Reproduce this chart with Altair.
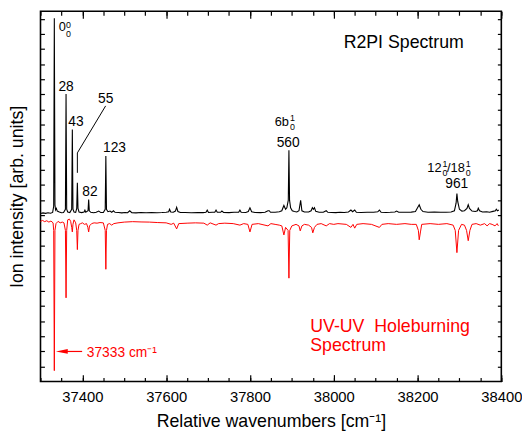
import altair as alt
import pandas as pd

FONT = "Liberation Sans"

# ---------------- data ----------------
# R2PI spectrum (black trace): wavenumber [cm-1], intensity [arb.]
r2pi_x = [37300, 37306, 37312, 37318, 37324, 37329, 37331.5, 37333, 37334.5, 37336,
          37338, 37340, 37345, 37350, 37355, 37359.5, 37361, 37362.5, 37365, 37370,
          37374.5, 37376, 37377.5, 37380, 37384, 37386.5, 37388, 37389.5, 37392, 37398,
          37404, 37406, 37408, 37413.5, 37415, 37416.5, 37420, 37427, 37433, 37439,
          37444, 37450, 37454.5, 37456, 37457.5, 37461, 37466, 37470, 37474, 37478,
          37486, 37494, 37502, 37508, 37513, 37518, 37528, 37540, 37552, 37565,
          37578, 37590, 37600, 37606, 37608, 37611, 37617, 37622, 37625, 37628,
          37634, 37645, 37660, 37675, 37688, 37695, 37698, 37701, 37710, 37716,
          37719, 37722, 37730, 37733, 37737, 37750, 37762, 37773, 37776, 37779,
          37790, 37796, 37800, 37804, 37812, 37825, 37836, 37843, 37846, 37849,
          37860, 37870, 37876, 37881, 37885, 37888, 37891.5, 37893, 37894.5, 37897,
          37901, 37906, 37912, 37917, 37921, 37924, 37930, 37940, 37946, 37949,
          37951.5, 37954, 37957, 37965, 37975, 37982, 37986, 37995, 38005, 38015,
          38025, 38035, 38041, 38045, 38050, 38054, 38065, 38080, 38095, 38105,
          38109, 38113, 38125, 38135, 38146, 38150, 38155, 38170, 38185, 38195,
          38200, 38204, 38208, 38213, 38225, 38240, 38255, 38268, 38280, 38288,
          38292, 38294, 38296, 38300, 38306, 38312, 38318, 38321, 38324, 38330,
          38338, 38343, 38345, 38348, 38355, 38365, 38372, 38380, 38386, 38388,
          38391, 38394]
r2pi_y = [1.112, 1.116, 1.113, 1.117, 1.114, 1.119, 1.160, 2.404, 1.170, 1.135,
          1.146, 1.128, 1.122, 1.117, 1.119, 1.140, 1.902, 1.140, 1.122, 1.118,
          1.140, 1.668, 1.140, 1.122, 1.120, 1.145, 1.316, 1.145, 1.122, 1.118,
          1.122, 1.134, 1.120, 1.130, 1.205, 1.130, 1.120, 1.117, 1.120, 1.128,
          1.118, 1.118, 1.140, 1.492, 1.140, 1.124, 1.128, 1.120, 1.130, 1.120,
          1.118, 1.116, 1.119, 1.117, 1.130, 1.117, 1.116, 1.118, 1.117, 1.119,
          1.117, 1.118, 1.120, 1.124, 1.140, 1.122, 1.120, 1.128, 1.153, 1.125,
          1.119, 1.118, 1.117, 1.119, 1.118, 1.120, 1.134, 1.119, 1.120, 1.120,
          1.134, 1.120, 1.120, 1.128, 1.119, 1.118, 1.120, 1.120, 1.134, 1.120,
          1.119, 1.125, 1.150, 1.124, 1.119, 1.118, 1.120, 1.130, 1.130, 1.120,
          1.120, 1.124, 1.130, 1.165, 1.140, 1.150, 1.200, 1.531, 1.200, 1.150,
          1.130, 1.125, 1.122, 1.130, 1.199, 1.130, 1.122, 1.122, 1.130, 1.150,
          1.140, 1.150, 1.126, 1.120, 1.120, 1.130, 1.120, 1.119, 1.118, 1.120,
          1.119, 1.122, 1.135, 1.124, 1.135, 1.120, 1.119, 1.120, 1.120, 1.123,
          1.135, 1.120, 1.119, 1.120, 1.122, 1.128, 1.120, 1.120, 1.121, 1.125,
          1.150, 1.170, 1.140, 1.125, 1.120, 1.122, 1.120, 1.120, 1.122, 1.130,
          1.180, 1.244, 1.190, 1.140, 1.128, 1.130, 1.145, 1.170, 1.145, 1.128,
          1.125, 1.130, 1.147, 1.130, 1.122, 1.124, 1.120, 1.126, 1.130, 1.140,
          1.130, 1.135]

# UV-UV hole-burning spectrum (red trace)
hb_x = [37300, 37305, 37310, 37315, 37320, 37325, 37330, 37331.5, 37333, 37334.5,
        37337, 37342, 37347, 37352, 37356, 37359.5, 37361, 37362.5, 37365, 37369,
        37372, 37374.5, 37376, 37377.5, 37380, 37384, 37386.5, 37388, 37389.5, 37392,
        37396, 37400, 37405, 37410, 37413, 37415, 37417, 37422, 37428, 37435,
        37442, 37450, 37454.5, 37456, 37457.5, 37460, 37465, 37470, 37475, 37485,
        37500, 37520, 37540, 37560, 37580, 37600, 37612, 37618, 37625, 37630,
        37650, 37670, 37690, 37698, 37705, 37719, 37725, 37740, 37760, 37776,
        37785, 37795, 37800, 37805, 37820, 37843, 37850, 37860, 37870, 37876,
        37881, 37885, 37891, 37893, 37895, 37900, 37910, 37917, 37920, 37924,
        37930, 37940, 37947, 37950, 37954, 37960, 37970, 37982, 37990, 38000,
        38010, 38030, 38041, 38046, 38050, 38055, 38070, 38090, 38109, 38115,
        38130, 38150, 38170, 38185, 38197, 38202, 38204, 38207, 38210, 38230,
        38250, 38270, 38285, 38290, 38294, 38298, 38305, 38312, 38317, 38321,
        38325, 38330, 38340, 38350, 38360, 38366, 38372, 38378, 38385, 38390,
        38393]
hb_y = [1.060, 1.066, 1.058, 1.064, 1.055, 1.062, 1.050, 1.000, 0.072, 1.000,
        1.045, 1.060, 1.050, 1.055, 1.050, 1.000, 0.554, 1.000, 1.070, 1.075,
        1.060, 1.020, 0.990, 1.040, 1.070, 1.050, 1.000, 0.873, 1.000, 1.040,
        1.045, 1.050, 1.040, 1.045, 1.020, 0.990, 1.030, 1.045, 1.050, 1.048,
        1.052, 1.050, 1.000, 0.743, 1.000, 1.040, 1.045, 1.035, 1.045, 1.050,
        1.055, 1.058, 1.056, 1.055, 1.052, 1.050, 1.040, 1.048, 1.010, 1.045,
        1.048, 1.050, 1.048, 1.035, 1.050, 1.035, 1.045, 1.048, 1.045, 1.035,
        1.045, 1.040, 0.990, 1.040, 1.045, 1.030, 1.045, 1.040, 1.035, 1.030,
        0.970, 1.020, 1.000, 0.684, 1.000, 1.030, 1.040, 1.030, 0.997, 1.030,
        1.040, 1.035, 1.020, 0.984, 1.020, 1.040, 1.045, 1.030, 1.045, 1.040,
        1.045, 1.040, 1.020, 1.040, 1.015, 1.040, 1.045, 1.040, 1.020, 1.040,
        1.045, 1.040, 1.045, 1.040, 1.040, 1.000, 0.938, 0.990, 1.040, 1.045,
        1.040, 1.045, 1.035, 1.000, 0.853, 1.000, 1.040, 1.035, 1.000, 0.932,
        1.000, 1.040, 1.045, 1.035, 1.045, 1.030, 1.045, 1.040, 1.030, 1.045,
        1.030]

# peak shift labels
peak_text = ["28", "43", "55", "82", "123", "560", "961"]
peak_x = [37361.1, 37384.6, 37455.6, 37418.2, 37476.7, 37891.1, 38293.7]
peak_y = [1.948, 1.720, 1.872, 1.251, 1.546, 1.577, 1.304]

# assignment labels: main part (right edge), superscript and subscript (left edge)
asg_text = ["0", "6b", "12", "/18"]
asg_x = [37360.4, 37893.0, 38257.2, 38312.9]
asg_y = [2.345, 1.717, 1.414, 1.414]
sup_text = ["0", "1", "1", "1"]
sup_x = [37361.1, 37895.8, 38259.6, 38315.3]
sup_y = [2.362, 1.744, 1.440, 1.440]
sub_text = ["0", "0", "0", "0"]
sub_x = [37361.1, 37895.8, 38259.6, 38315.3]
sub_y = [2.302, 1.687, 1.381, 1.381]

# leader line for the "55" label
lead_x = [37388, 37388, 37455.5]
lead_y = [1.381, 1.513, 1.824]

# arrow to the origin band
arrow_tail_x = [37399.4]
arrow_head_x = [37351.0]
arrow_y = [0.199]

# free text
note_text = ["R2PI Spectrum", "UV-UV\u00a0 Holeburning", "Spectrum", "37333 cm\u207b\u00b9"]
note_x = [38167.0, 37944.0, 37944.0, 37410.5]
note_y = [2.208, 0.326, 0.202, 0.163]

# axis ticks
x_major = [37400, 37600, 37800, 38000, 38200, 38400]
x_minor = list(range(37300, 38401, 50))
y_ticks = [0.1, 0.2, 0.3, 0.4, 0.5, 0.6, 0.7, 0.8, 0.9, 1.0, 1.1, 1.2,
           1.3, 1.4, 1.5, 1.6, 1.7, 1.8, 1.9, 2.0, 2.1, 2.2, 2.3, 2.4]

# ---------------- chart ----------------
xs = alt.Scale(domain=[37300, 38400], nice=False, zero=False)
ys = alt.Scale(domain=[0, 2.45], nice=False, zero=False)


def xaxis(orient, values, size, labels=False, title=None):
    kw = dict(orient=orient, values=values, tickSize={"expr": str(-size)},
              tickColor="black", tickWidth=1.2, domain=False, grid=False,
              labels=labels)
    if labels:
        kw.update(format="d", labelFont=FONT, labelFontSize=15, labelColor="black",
                  labelPadding=15 if orient == "bottom" else 8, labelFlush=False,
                  labelOverlap=False)
    if title:
        kw.update(title=title, titleFont=FONT, titleFontSize=18,
                  titleFontWeight="normal", titleColor="black", titlePadding=9)
    else:
        kw.update(title=None)
    return alt.Axis(**kw)


def yaxis(orient, title=None):
    kw = dict(orient=orient, values=y_ticks, tickSize={"expr": "-4"},
              tickColor="black", tickWidth=1.2, domain=False, grid=False,
              labels=False)
    if title:
        kw.update(title=title, titleFont=FONT, titleFontSize=18,
                  titleFontWeight="normal", titleColor="black", titlePadding=14)
    else:
        kw.update(title=None)
    return alt.Axis(**kw)


def txt(df, size, color, align, baseline, xax=None):
    return alt.Chart(df).mark_text(
        font=FONT, fontSize=size, color=color, align=align, baseline=baseline
    ).encode(
        x=alt.X("x:Q", scale=xs, axis=xax),
        y=alt.Y("y:Q", scale=ys, axis=None),
        text="t:N",
    )


r2pi = pd.DataFrame({"x": r2pi_x, "y": r2pi_y})
hb = pd.DataFrame({"x": hb_x, "y": hb_y})

black = alt.Chart(r2pi).mark_line(color="black", strokeWidth=1.1).encode(
    x=alt.X("x:Q", scale=xs,
            axis=xaxis("bottom", x_major, 7, labels=True,
                       title="Relative wavenumbers [cm\u207b\u00b9]")),
    y=alt.Y("y:Q", scale=ys, axis=yaxis("left", "Ion intensity [arb. units]")),
)

red = alt.Chart(hb).mark_line(color="#ff0000", strokeWidth=1.0).encode(
    x=alt.X("x:Q", scale=xs, axis=xaxis("top", x_major, 7)),
    y=alt.Y("y:Q", scale=ys, axis=yaxis("right")),
)

peaks = txt(pd.DataFrame({"x": peak_x, "y": peak_y, "t": peak_text}), 14, "black",
            "center", "middle", xaxis("bottom", x_minor, 4))
asg = txt(pd.DataFrame({"x": asg_x, "y": asg_y, "t": asg_text}), 13, "black",
          "right", "middle", xaxis("top", x_minor, 4))
sup = txt(pd.DataFrame({"x": sup_x, "y": sup_y, "t": sup_text}), 9, "black",
          "left", "middle")
sub = txt(pd.DataFrame({"x": sub_x, "y": sub_y, "t": sub_text}), 9, "black",
          "left", "middle")

lead = alt.Chart(pd.DataFrame({"x": lead_x, "y": lead_y, "o": [0, 1, 2]})).mark_line(
    color="black", strokeWidth=1.0
).encode(
    x=alt.X("x:Q", scale=xs, axis=None),
    y=alt.Y("y:Q", scale=ys, axis=None),
    order="o:O",
)

notes = pd.DataFrame({"x": note_x, "y": note_y, "t": note_text})
ttl_r2pi = txt(notes.iloc[[0]], 18, "black", "center", "alphabetic")
ttl_hb = txt(notes.iloc[[1, 2]], 18, "#ff0000", "left", "alphabetic")
ttl_origin = txt(notes.iloc[[3]], 14, "#ff0000", "left", "alphabetic")

arrow_df = pd.DataFrame({"x": arrow_head_x, "x2": arrow_tail_x, "y": arrow_y})
arrow_line = alt.Chart(arrow_df).mark_rule(color="#ff0000", strokeWidth=1.2).encode(
    x=alt.X("x:Q", scale=xs, axis=None), x2="x2:Q",
    y=alt.Y("y:Q", scale=ys, axis=None),
)
arrow_head = alt.Chart(arrow_df).mark_point(
    shape="M-1,0L1,-0.4L1,0.4Z", filled=True, size=144, color="#ff0000", opacity=1
).encode(
    x=alt.X("x:Q", scale=xs, axis=None),
    y=alt.Y("y:Q", scale=ys, axis=None),
)

chart = alt.layer(
    red, black, peaks, asg, sup, sub, lead, ttl_r2pi, ttl_hb, ttl_origin,
    arrow_line, arrow_head
).resolve_axis(x="independent", y="independent").properties(
    width=468, height=376,
    autosize=alt.AutoSizeParams(type="none"),
    padding={"left": 33, "top": 0, "right": 21, "bottom": 54},
).configure_view(stroke="black", strokeWidth=1.6)

chart.save("out.html", embed_options={"renderer": "svg", "actions": False})
